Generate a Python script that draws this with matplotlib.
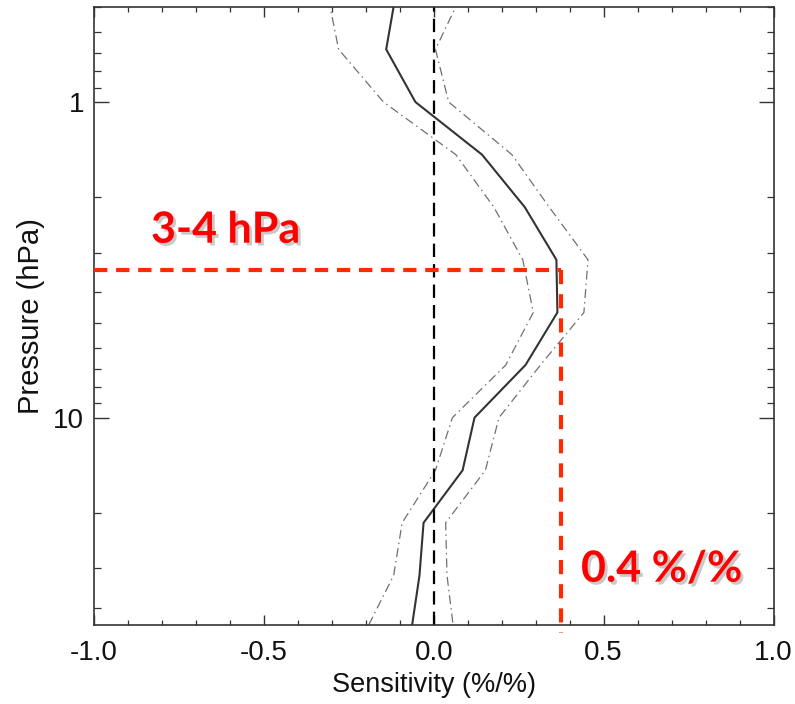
import matplotlib
matplotlib.use("Agg")
import matplotlib.pyplot as plt
import matplotlib.patheffects as pe
from matplotlib.ticker import FixedLocator, NullFormatter, MultipleLocator

# ---- data ----
pressure = [0.464, 0.681, 1.0, 1.468, 2.154, 3.162, 4.642, 6.813, 10.0, 14.68, 21.54, 31.62, 46.42]
sens_mean = [-0.113, -0.140, -0.054, 0.142, 0.268, 0.361, 0.364, 0.270, 0.120, 0.085, -0.030, -0.042, -0.065]
sens_low = [-0.311, -0.280, -0.148, 0.065, 0.177, 0.262, 0.293, 0.212, 0.055, 0.005, -0.093, -0.118, -0.196]
sens_high = [0.079, 0.005, 0.044, 0.230, 0.340, 0.454, 0.442, 0.314, 0.192, 0.152, 0.035, 0.039, 0.058]

x_ticks = [-1.0, -0.5, 0.0, 0.5, 1.0]
x_ticklabels = ["-1.0", "-0.5", "0.0", "0.5", "1.0"]
y_ticks = [1, 10]
y_ticklabels = ["1", "10"]
y_minor = [0.5, 0.6, 0.7, 0.8, 0.9, 2, 3, 4, 5, 6, 7, 8, 9, 20, 30, 40]

peak_pressure = 3.40
peak_sens = 0.375
label_p = "3-4 hPa"
label_s = "0.4 %/%"

# ---- figure ----
plt.rcParams['font.family'] = ['Liberation Sans', 'DejaVu Sans']
fig = plt.figure(figsize=(7.95, 7.04), dpi=100)
ax = fig.add_axes([94/795, 1 - 625/704, (773.5 - 94)/795, (625 - 7)/704])

ax.set_yscale('log')
ax.set_xlim(-1.0, 1.0)
ax.set_ylim(45.4, 0.5)

gray_dd = (0, (7.2, 3.2, 1.2, 3.2))
ax.plot(sens_low, pressure, color='#707070', lw=0.9, linestyle=gray_dd)
ax.plot(sens_high, pressure, color='#707070', lw=0.9, linestyle=gray_dd)
ax.plot(sens_mean, pressure, color='#333333', lw=1.5)
ax.axvline(0.0, color='black', lw=1.6, linestyle=(0, (6, 3.2)))

red = '#ff2a00'
ax.plot([-1.0, peak_sens], [peak_pressure, peak_pressure], color=red, lw=3,
        linestyle=(0, (3.2, 2.1)), clip_on=False, zorder=5)
ax.plot([peak_sens, peak_sens], [peak_pressure, 48.0], color=red, lw=3,
        linestyle=(0, (3.4, 2.4)), clip_on=False, zorder=5)

# ticks
ax.xaxis.set_major_locator(FixedLocator(x_ticks))
ax.set_xticklabels(x_ticklabels)
ax.xaxis.set_minor_locator(MultipleLocator(0.1))
ax.yaxis.set_major_locator(FixedLocator(y_ticks))
ax.set_yticklabels(y_ticklabels)
ax.yaxis.set_minor_locator(FixedLocator(y_minor))
ax.yaxis.set_minor_formatter(NullFormatter())

tick_col = '#111111'
ax.tick_params(axis='x', which='major', direction='in', length=7.5, width=1.0,
               top=True, bottom=True, labelsize=20, pad=11, colors='#333333', labelcolor=tick_col)
ax.tick_params(axis='x', which='minor', direction='in', length=3.8, width=0.9,
               top=True, bottom=True, colors='#333333')
ax.tick_params(axis='y', which='major', direction='in', length=10.5, width=1.0,
               left=True, right=True, labelsize=20, pad=7, colors='#333333', labelcolor=tick_col)
ax.tick_params(axis='y', which='minor', direction='in', length=5.2, width=0.9,
               left=True, right=True, colors='#333333')
for sp in ax.spines.values():
    sp.set_linewidth(1.2)
    sp.set_color('#333333')

ax.set_xlabel("Sensitivity (%/%)", fontsize=19.5, color=tick_col, labelpad=4)
ax.set_ylabel("Pressure (hPa)", fontsize=21, color=tick_col, labelpad=6)

shadow = [pe.withSimplePatchShadow(offset=(2, -2), shadow_rgbFace='#888888', alpha=0.45)]
fig.text(151/795, 1 - 242.7/704, label_p, fontsize=31, fontweight='bold', color='#ff0000',
         family=['Lato', 'DejaVu Sans'], va='baseline', ha='left', path_effects=shadow)
fig.text(581/795, 1 - 581.7/704, label_s, fontsize=31, fontweight='bold', color='#ff0000',
         family=['Lato', 'DejaVu Sans'], va='baseline', ha='left', path_effects=shadow)

fig.savefig("out.png", dpi=100)
